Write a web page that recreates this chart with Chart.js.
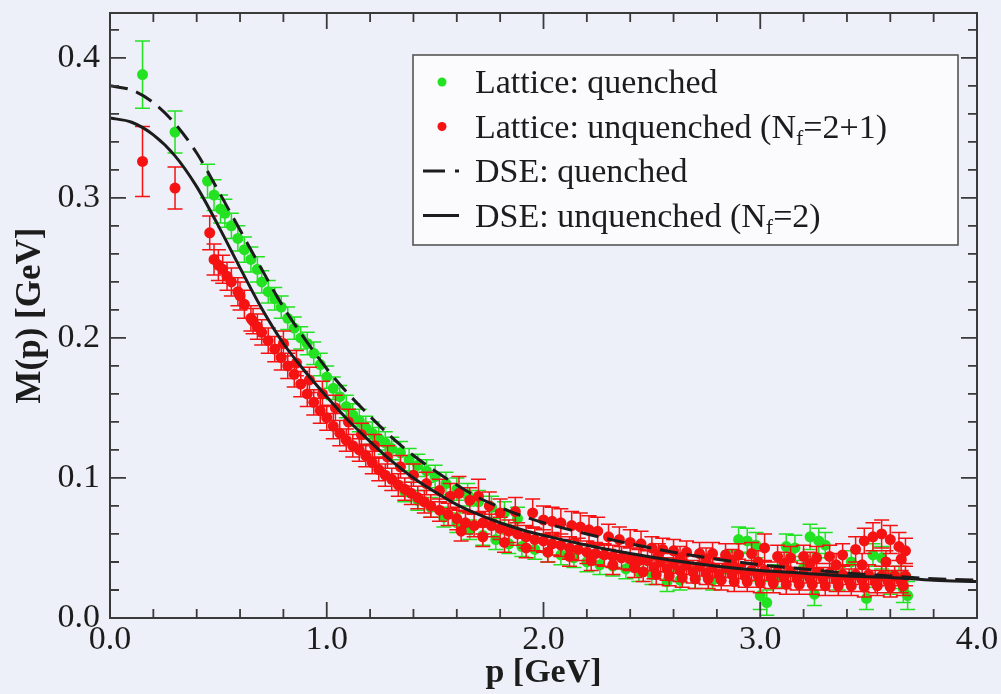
<!DOCTYPE html>
<html><head><meta charset="utf-8">
<style>html,body{margin:0;padding:0;background:#eef0f9;}canvas{display:block}</style>
<script src="https://cdn.jsdelivr.net/npm/chart.js@4.4.1/dist/chart.umd.min.js"></script>
</head><body>
<canvas id="c" width="1001" height="694"></canvas>
<script>
// ---------- data ----------
const xMajorTicks = [0, 1, 2, 3, 4];
const xMinorTicks = [0.2,0.4,0.6,0.8,1.2,1.4,1.6,1.8,2.2,2.4,2.6,2.8,3.2,3.4,3.6,3.8];
const yMajorTicks = [0, 0.1, 0.2, 0.3, 0.4];
const yMinorTicks = [0.02,0.04,0.06,0.08,0.12,0.14,0.16,0.18,0.22,0.24,0.26,0.28,0.32,0.34,0.36,0.38,0.42];
const xLabel = 'p [GeV]';
const yLabel = 'M(p) [GeV]';
const legendLabels = ['Lattice: quenched', 'Lattice: unquenched (N_f=2+1)', 'DSE: quenched', 'DSE: unquenched (N_f=2)'];

// DSE curves
const dseP = [0,0.1,0.2,0.3,0.4,0.5,0.6,0.7,0.8,0.9,1.0,1.1,1.2,1.3,1.4,1.5,1.6,1.7,1.8,1.9,2.0,2.2,2.4,2.6,2.8,3.0,3.2,3.4,3.6,3.8,4.0];
const dseQuenched = [0.380,0.377,0.368,0.353,0.332,0.305,0.277,0.249,0.222,0.199,0.178,0.160,0.144,0.129,0.116,0.105,0.095,0.086,0.079,0.073,0.068,0.060,0.053,0.047,0.042,0.038,0.035,0.032,0.030,0.028,0.027];
const dseUnquenched = [0.357,0.354,0.345,0.330,0.308,0.280,0.250,0.221,0.196,0.176,0.158,0.141,0.126,0.112,0.100,0.090,0.081,0.074,0.068,0.063,0.059,0.052,0.046,0.041,0.037,0.034,0.032,0.030,0.029,0.027,0.026];

// Lattice data: [p, M, error]
const latticeQuenched = [
[0.15,0.388,0.024],[0.30,0.347,0.015],[0.45,0.312,0.012],[0.48,0.302,0.011],[0.51,0.292,0.010],[0.53,0.289,0.010],
[0.56,0.280,0.009],[0.59,0.271,0.009],[0.62,0.263,0.009],[0.65,0.256,0.009],[0.68,0.249,0.009],[0.70,0.240,0.008],
[0.73,0.233,0.008],[0.76,0.228,0.008],[0.79,0.222,0.008],[0.82,0.214,0.008],[0.85,0.207,0.008],[0.88,0.200,0.008],
[0.91,0.196,0.008],[0.94,0.189,0.008],[0.97,0.181,0.008],[1.00,0.172,0.008],[1.03,0.164,0.008],[1.06,0.158,0.008],
[1.09,0.151,0.008],[1.12,0.145,0.008],[1.15,0.141,0.008],[1.18,0.136,0.008],[1.21,0.132,0.008],[1.24,0.128,0.008],
[1.27,0.125,0.008],[1.30,0.121,0.008],[1.34,0.118,0.008],[1.38,0.113,0.008],[1.42,0.109,0.008],[1.46,0.105,0.008],
[1.50,0.101,0.008],[1.55,0.096,0.008],[1.60,0.092,0.008],[1.65,0.088,0.008],[1.70,0.083,0.008],[1.76,0.079,0.008],
[1.82,0.075,0.008],[1.88,0.071,0.008],
[1.36,0.090,0.007],[1.42,0.084,0.007],[1.48,0.079,0.007],[1.54,0.072,0.007],[1.60,0.068,0.007],[1.66,0.063,0.007],
[1.72,0.059,0.007],[1.78,0.056,0.007],[1.84,0.053,0.007],[1.90,0.051,0.007],[1.96,0.049,0.007],[2.02,0.047,0.007],
[2.08,0.045,0.007],[2.14,0.043,0.007],[2.20,0.040,0.007],[2.26,0.038,0.007],[2.32,0.037,0.007],[2.38,0.035,0.007],
[2.44,0.033,0.007],[2.50,0.031,0.007],[2.57,0.026,0.007],[2.63,0.027,0.007],[2.70,0.028,0.007],[2.78,0.027,0.007],
[2.86,0.040,0.008],[2.90,0.056,0.009],[2.94,0.055,0.009],[2.98,0.052,0.009],[3.00,0.016,0.010],[3.03,0.011,0.009],
[3.08,0.030,0.008],[3.12,0.051,0.009],[3.16,0.050,0.009],[3.20,0.036,0.008],[3.23,0.058,0.009],[3.27,0.055,0.009],
[3.30,0.052,0.009],[3.25,0.017,0.008],[3.36,0.028,0.008],[3.42,0.040,0.008],[3.49,0.014,0.008],[3.52,0.045,0.008],
[3.56,0.043,0.008],[3.60,0.025,0.008],[3.64,0.029,0.008],[3.66,0.021,0.010],[3.68,0.016,0.010]
];
const latticeUnquenched = [
[0.15,0.326,0.025],[0.30,0.307,0.015],[0.46,0.275,0.012],[0.48,0.256,0.011],[0.50,0.252,0.011],[0.52,0.249,0.010],
[0.54,0.244,0.010],[0.56,0.240,0.010],[0.59,0.233,0.010],[0.60,0.230,0.010],[0.62,0.224,0.010],[0.65,0.214,0.009],
[0.66,0.212,0.009],[0.68,0.208,0.009],[0.70,0.204,0.009],
[0.73,0.198,0.009],[0.76,0.192,0.009],[0.79,0.186,0.009],[0.82,0.180,0.009],[0.85,0.174,0.009],[0.88,0.167,0.009],
[0.91,0.160,0.009],[0.94,0.154,0.009],[0.97,0.148,0.009],[1.00,0.143,0.009],[1.03,0.137,0.009],[1.06,0.132,0.009],
[1.09,0.127,0.008],[1.12,0.123,0.008],[1.15,0.120,0.008],[1.18,0.116,0.008],[1.21,0.111,0.008],[1.24,0.106,0.008],
[1.27,0.102,0.008],[1.30,0.099,0.008],[1.33,0.095,0.008],[1.36,0.092,0.008],[1.39,0.089,0.008],[1.42,0.086,0.008],
[1.45,0.083,0.008],[1.48,0.080,0.008],[1.52,0.077,0.008],[1.56,0.074,0.008],[1.60,0.071,0.008],[1.64,0.068,0.008],
[1.68,0.066,0.008],
[0.80,0.196,0.009],[0.86,0.182,0.009],[0.92,0.170,0.009],[0.98,0.160,0.009],[1.04,0.150,0.009],[1.10,0.140,0.009],
[1.16,0.131,0.008],[1.22,0.123,0.008],[1.28,0.115,0.008],[1.34,0.108,0.008],[1.40,0.102,0.008],[1.46,0.096,0.008],
[1.52,0.091,0.008],[1.57,0.087,0.009],[1.61,0.089,0.012],[1.66,0.084,0.009],[1.70,0.087,0.012],[1.75,0.080,0.010],
[1.80,0.075,0.010],[1.87,0.076,0.010],[1.95,0.075,0.010],[2.00,0.070,0.010],[2.04,0.069,0.010],[2.08,0.068,0.010],
[2.13,0.066,0.010],[2.17,0.065,0.010],[2.21,0.063,0.010],[2.25,0.062,0.010],[2.30,0.058,0.009],[2.35,0.056,0.009],
[2.40,0.054,0.009],[2.45,0.053,0.009],
[1.72,0.068,0.008],[1.76,0.066,0.008],[1.80,0.064,0.008],[1.84,0.062,0.008],[1.88,0.060,0.008],[1.92,0.058,0.008],
[1.96,0.056,0.008],[2.00,0.055,0.008],[2.04,0.053,0.008],[2.08,0.052,0.008],[2.12,0.050,0.008],[2.16,0.049,0.008],
[2.20,0.047,0.008],[2.24,0.046,0.008],[2.28,0.045,0.008],[2.32,0.044,0.008],[2.36,0.043,0.008],[2.40,0.042,0.008],
[2.44,0.041,0.008],
[1.62,0.062,0.007],[1.72,0.058,0.007],[1.82,0.054,0.007],[1.92,0.050,0.007],[2.02,0.047,0.007],[2.12,0.044,0.007],
[2.22,0.041,0.007],[2.32,0.038,0.007],[2.42,0.036,0.007],
[2.50,0.050,0.008],[2.55,0.049,0.008],[2.60,0.048,0.008],[2.66,0.047,0.008],[2.72,0.046,0.008],[2.78,0.046,0.008],
[2.84,0.045,0.008],[2.90,0.045,0.008],[2.96,0.046,0.008],[3.02,0.050,0.010],[3.08,0.044,0.008],[3.14,0.043,0.008],
[3.20,0.044,0.008],[3.26,0.043,0.008],[3.32,0.044,0.008],[3.38,0.045,0.008],[3.44,0.049,0.009],[3.48,0.055,0.009],
[3.52,0.058,0.010],[3.56,0.060,0.010],[3.60,0.056,0.010],[3.64,0.051,0.010],[3.67,0.048,0.009],
[2.53,0.045,0.008],[2.63,0.043,0.008],[2.75,0.042,0.008],[2.87,0.041,0.008],[2.99,0.040,0.008],[3.11,0.039,0.008],
[3.23,0.039,0.008],[3.35,0.038,0.008],[3.47,0.038,0.008],[3.58,0.040,0.008],[3.65,0.042,0.008],
[2.48,0.041,0.007],[2.54,0.040,0.007],[2.60,0.039,0.007],[2.66,0.038,0.007],[2.72,0.037,0.007],[2.78,0.036,0.007],
[2.84,0.036,0.007],[2.90,0.035,0.007],[2.96,0.034,0.007],[3.02,0.034,0.007],[3.08,0.033,0.007],[3.14,0.033,0.007],
[3.20,0.032,0.007],[3.26,0.032,0.007],[3.32,0.032,0.007],[3.38,0.031,0.007],[3.44,0.031,0.007],[3.50,0.031,0.007],
[3.56,0.030,0.007],[3.62,0.030,0.007],[3.67,0.030,0.007],
[2.51,0.036,0.008],[2.57,0.035,0.008],[2.63,0.034,0.008],[2.69,0.033,0.008],[2.75,0.032,0.008],[2.81,0.031,0.008],
[2.87,0.031,0.008],[2.93,0.030,0.008],[2.99,0.030,0.008],[3.05,0.029,0.008],[3.11,0.029,0.008],[3.17,0.028,0.008],
[3.23,0.028,0.008],[3.29,0.028,0.008],[3.35,0.027,0.008],[3.41,0.027,0.008],[3.47,0.027,0.008],[3.53,0.026,0.008],
[3.59,0.026,0.008],[3.65,0.026,0.008],
[2.46,0.033,0.007],[2.52,0.031,0.007],[2.58,0.030,0.007],[2.64,0.029,0.007],[2.70,0.028,0.007],[2.76,0.028,0.007],
[2.82,0.027,0.007],[2.88,0.026,0.007],[2.94,0.026,0.007],[3.00,0.025,0.007],[3.06,0.025,0.007],[3.12,0.024,0.007],
[3.18,0.024,0.007],[3.24,0.024,0.007],[3.30,0.023,0.007],[3.36,0.023,0.007],[3.42,0.023,0.007],[3.48,0.022,0.007],
[3.54,0.023,0.007],[3.60,0.022,0.007],[3.66,0.023,0.007]
];

// ---------- styling ----------
const BG = '#eef0f9';
const GREEN = 'rgb(34,226,34)';
const RED = 'rgb(244,18,18)';
const INK = '#1c1c1c';
const FRAME = '#3a3a3a';
const SERIF = "'Liberation Serif', 'DejaVu Serif', serif";

const bgPlugin = {
  id: 'bg',
  beforeDraw(chart) {
    const ctx = chart.ctx;
    ctx.save(); ctx.fillStyle = BG; ctx.fillRect(0, 0, chart.width, chart.height); ctx.restore();
  }
};

const errorBars = {
  id: 'errorBars',
  beforeDatasetDraw(chart, args) {
    const ds = chart.data.datasets[args.index];
    if (!ds.errors) return;
    const ctx = chart.ctx, xs = chart.scales.x, ys = chart.scales.y;
    const cap = 7.5;
    ctx.save();
    ctx.strokeStyle = ds.backgroundColor;
    ctx.lineWidth = 1.5;
    ctx.beginPath();
    ds.data.forEach((pt, i) => {
      const e = ds.errors[i];
      const px = xs.getPixelForValue(pt.x);
      const y1 = ys.getPixelForValue(pt.y - e), y2 = ys.getPixelForValue(pt.y + e);
      ctx.moveTo(px, y1); ctx.lineTo(px, y2);
      ctx.moveTo(px - cap, y1); ctx.lineTo(px + cap, y1);
      ctx.moveTo(px - cap, y2); ctx.lineTo(px + cap, y2);
    });
    ctx.stroke();
    ctx.restore();
  }
};

const framePlugin = {
  id: 'frame',
  afterDatasetsDraw(chart) {
    const {ctx, chartArea: a, scales: {x, y}} = chart;
    ctx.save();
    ctx.strokeStyle = FRAME;
    ctx.lineWidth = 2;
    ctx.strokeRect(a.left, a.top, a.right - a.left, a.bottom - a.top);
    ctx.lineWidth = 1.8;
    ctx.beginPath();
    const tick = (vals, len) => {
      vals.forEach(v => {
        const px = x.getPixelForValue(v);
        ctx.moveTo(px, a.bottom); ctx.lineTo(px, a.bottom - len);
        ctx.moveTo(px, a.top); ctx.lineTo(px, a.top + len);
      });
    };
    const ytick = (vals, len) => {
      vals.forEach(v => {
        const py = y.getPixelForValue(v);
        ctx.moveTo(a.left, py); ctx.lineTo(a.left + len, py);
        ctx.moveTo(a.right, py); ctx.lineTo(a.right - len, py);
      });
    };
    tick(xMajorTicks, 16); tick(xMinorTicks, 9);
    ytick(yMajorTicks, 16); ytick(yMinorTicks, 9);
    ctx.stroke();
    ctx.restore();
  }
};

const legendPlugin = {
  id: 'inlineLegend',
  afterDraw(chart) {
    const {ctx, chartArea: a} = chart;
    const L = a.left + 303, T = a.top + 42, W = 545, H = 190;
    ctx.save();
    ctx.fillStyle = '#fbfbfd';
    ctx.fillRect(L, T, W, H);
    ctx.strokeStyle = '#555'; ctx.lineWidth = 1.6;
    ctx.strokeRect(L, T, W, H);
    const rowY = i => T + 27 + i * 44.5;
    const textX = L + 62;
    const markers = [
      {type: 'dot', color: GREEN},
      {type: 'dot', color: RED},
      {type: 'dash'},
      {type: 'solid'}
    ];
    markers.forEach((m, i) => {
      const yy = rowY(i);
      if (m.type === 'dot') {
        ctx.fillStyle = m.color;
        ctx.beginPath(); ctx.arc(L + 29, yy, 4.5, 0, Math.PI * 2); ctx.fill();
      } else {
        ctx.strokeStyle = INK; ctx.lineWidth = 3;
        ctx.setLineDash(m.type === 'dash' ? [22, 10] : []);
        ctx.beginPath(); ctx.moveTo(L + 10, yy); ctx.lineTo(L + 46, yy); ctx.stroke();
        ctx.setLineDash([]);
      }
    });
    ctx.fillStyle = INK;
    ctx.textBaseline = 'alphabetic';
    legendLabels.forEach((lab, i) => {
      const base = rowY(i) + 11;
      let xx = textX;
      const parts = lab.split(/_(\w)/);
      parts.forEach((p, k) => {
        if (k % 2 === 1) {
          ctx.font = `22px ${SERIF}`;
          ctx.fillText(p, xx, base + 7);
          xx += ctx.measureText(p).width;
        } else {
          ctx.font = `34px ${SERIF}`;
          ctx.fillText(p, xx, base);
          xx += ctx.measureText(p).width;
        }
      });
    });
    ctx.restore();
  }
};

const toXY = (xs, ys) => xs.map((v, i) => ({x: v, y: ys[i]}));

new Chart(document.getElementById('c'), {
  type: 'scatter',
  data: {
    datasets: [
      {
        label: 'DSE: unquenched (Nf=2)', type: 'line',
        data: toXY(dseP, dseUnquenched),
        borderColor: INK, borderWidth: 3, pointRadius: 0, fill: false,
        cubicInterpolationMode: 'monotone'
      },
      {
        label: 'DSE: quenched', type: 'line',
        data: toXY(dseP, dseQuenched),
        borderColor: INK, borderWidth: 3, borderDash: [18, 9], pointRadius: 0, fill: false,
        cubicInterpolationMode: 'monotone'
      },
      {
        label: 'Lattice: unquenched (Nf=2+1)',
        data: latticeUnquenched.map(r => ({x: r[0], y: r[1]})),
        errors: latticeUnquenched.map(r => r[2]),
        backgroundColor: RED, borderWidth: 0, pointRadius: 5.5
      },
      {
        label: 'Lattice: quenched',
        data: latticeQuenched.map(r => ({x: r[0], y: r[1]})),
        errors: latticeQuenched.map(r => r[2]),
        backgroundColor: GREEN, borderWidth: 0, pointRadius: 5.5
      }
    ]
  },
  options: {
    responsive: false,
    animation: false,
    devicePixelRatio: 1,
    layout: {padding: {left: 0, right: 24, top: 13, bottom: 0}},
    plugins: {legend: {display: false}, tooltip: {enabled: false}},
    scales: {
      x: {
        type: 'linear', min: 0, max: 4,
        afterBuildTicks: s => { s.ticks = xMajorTicks.map(v => ({value: v})); },
        afterFit: s => { s.height = 76; s.paddingLeft = 0; s.paddingRight = 0; },
        grid: {display: false, drawTicks: false},
        border: {display: false},
        ticks: {
          autoSkip: false, maxRotation: 0, padding: 2, color: INK,
          font: {family: SERIF, size: 34},
          callback: v => Number(v).toFixed(1)
        },
        title: {display: true, text: xLabel, color: INK, font: {family: SERIF, size: 34, weight: 'bold'}, padding: {top: 0, bottom: 0}}
      },
      y: {
        type: 'linear', min: 0, max: 0.432,
        afterBuildTicks: s => { s.ticks = yMajorTicks.map(v => ({value: v})); },
        afterFit: s => { s.width = 110; s.paddingTop = 0; s.paddingBottom = 0; },
        grid: {display: false, drawTicks: false},
        border: {display: false},
        ticks: {
          autoSkip: false, padding: 10, color: INK,
          font: {family: SERIF, size: 34},
          callback: v => Number(v).toFixed(1)
        },
        title: {display: true, text: yLabel, color: INK, font: {family: SERIF, size: 35, weight: 'bold'}, padding: {top: 10, bottom: 0}}
      }
    }
  },
  plugins: [bgPlugin, errorBars, framePlugin, legendPlugin]
});
</script>
</body></html>
